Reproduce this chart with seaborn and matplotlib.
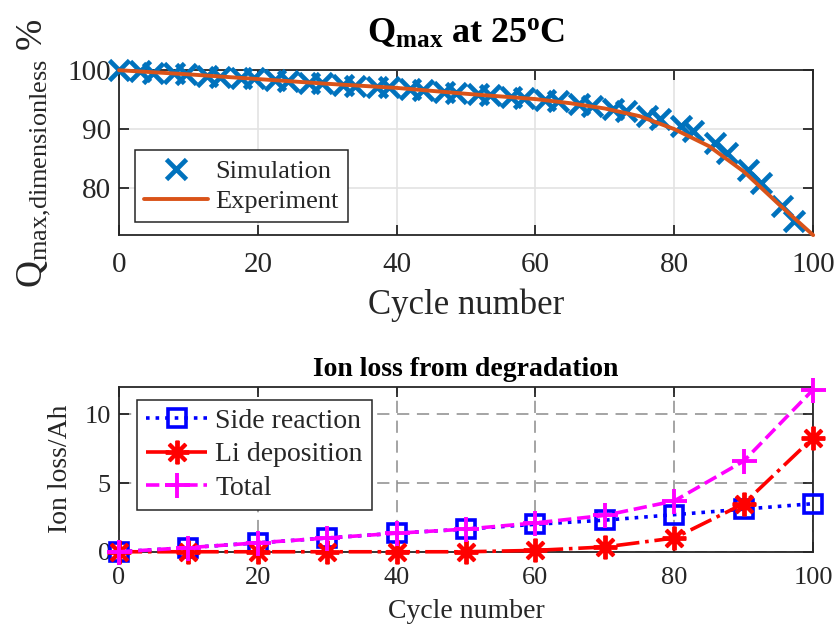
import matplotlib
matplotlib.use("Agg")
import matplotlib.pyplot as plt
import seaborn as sns
import pandas as pd

# ---- data: top panel ----
sim_cycle = [0, 3.0, 4.9, 7.9, 9.7, 12.7, 14.6, 17.6, 19.4, 22.5, 24.3, 27.3, 29.2,
             32.2, 34.0, 37.1, 38.9, 41.9, 43.8, 46.8, 48.6, 51.7, 53.5, 56.5, 58.4,
             61.4, 63.3, 66.3, 68.1, 71.2, 73.0, 76.0, 77.9, 80.9, 82.7, 85.8, 87.6,
             90.6, 92.5, 95.5, 97.3]
sim_q = [100.0, 99.8, 99.6, 99.5, 99.3, 99.1, 98.9, 98.7, 98.6, 98.3, 98.1, 97.9, 97.8,
         97.5, 97.4, 97.2, 97.1, 96.8, 96.6, 96.3, 96.2, 95.9, 95.8, 95.5, 95.3,
         95.0, 94.8, 94.3, 94.0, 93.4, 93.0, 92.3, 91.8, 90.6, 89.6, 87.6, 86.0,
         83.0, 80.8, 76.9, 74.4]
exp_cycle = [0, 10, 20, 30, 40, 50, 60, 65, 70, 75, 80, 85, 90, 95, 100]
exp_q = [100.0, 99.3, 98.5, 97.7, 97.0, 96.0, 95.1, 94.4, 93.5, 92.2, 90.0, 87.1, 82.8, 77.3, 72.0]

# ---- data: bottom panel ----
ion_cycle = [0, 10, 20, 30, 40, 50, 60, 70, 80, 90, 100]
side_reaction = [0.0, 0.3, 0.65, 1.0, 1.35, 1.65, 2.0, 2.3, 2.7, 3.1, 3.5]
li_deposition = [0.0, 0.0, 0.0, 0.0, 0.0, 0.0, 0.1, 0.35, 1.0, 3.5, 8.3]
total_loss = [0.0, 0.3, 0.65, 1.0, 1.35, 1.65, 2.1, 2.65, 3.7, 6.6, 11.8]

top_xticks = [0, 20, 40, 60, 80, 100]
top_yticks = [80, 90, 100]
bot_yticks = [0, 5, 10]

sns.set_theme(style="ticks")
plt.rcParams["font.family"] = ["Liberation Serif", "DejaVu Serif"]
plt.rcParams["mathtext.fontset"] = "custom"
plt.rcParams["mathtext.rm"] = "Liberation Serif"
plt.rcParams["mathtext.it"] = "Liberation Serif:italic"
plt.rcParams["mathtext.bf"] = "Liberation Serif:bold"

INK = "#262626"
fig = plt.figure(figsize=(8.34, 6.27), dpi=100)
ax1 = fig.add_axes([0.1427, 0.625, 0.8323, 0.263])
ax2 = fig.add_axes([0.1427, 0.120, 0.8323, 0.263])

# ---- top panel ----
df_sim = pd.DataFrame({"cycle": sim_cycle, "q": sim_q})
df_exp = pd.DataFrame({"cycle": exp_cycle, "q": exp_q})
sns.lineplot(data=df_sim, x="cycle", y="q", ax=ax1, color="#0072BD", linestyle="none",
             marker="x", markersize=14, markeredgewidth=3.4, markeredgecolor="#0072BD",
             label="Simulation", clip_on=False, zorder=3)
sns.lineplot(data=df_exp, x="cycle", y="q", ax=ax1, color="#D95319", linewidth=2.8,
             label="Experiment", zorder=4, clip_on=False)
ax1.set_xlim(0, 100)
ax1.set_ylim(72, 100)
ax1.set_xticks(top_xticks)
ax1.set_yticks(top_yticks)
ax1.grid(True, color="#e3e3e3", linewidth=1.2, linestyle="-")
ax1.set_axisbelow(True)
ax1.set_title(r"$\mathbf{Q_{max}\ at\ 25^{o}C}$", fontsize=26, color="black", pad=20)
ax1.set_xlabel("Cycle number", fontsize=25, color=INK, labelpad=8)
ax1.set_ylabel(r"$\mathrm{Q_{max{,}dimensionless}}\ \%$", fontsize=27, color=INK, labelpad=10)
leg1 = ax1.legend(loc="lower left", bbox_to_anchor=(0.023, 0.079), fontsize=19,
                  frameon=True, fancybox=False, framealpha=1, edgecolor=INK,
                  handlelength=2.4, labelspacing=0.25, borderpad=0.35, handletextpad=0.3,
                  borderaxespad=0)
leg1.get_frame().set_linewidth(1.1)

# ---- bottom panel ----
df_ion = pd.DataFrame({"cycle": ion_cycle, "side": side_reaction,
                       "li": li_deposition, "total": total_loss})
sns.lineplot(data=df_ion, x="cycle", y="side", ax=ax2, color="#0000FF", linestyle=":",
             linewidth=2.6, marker="s", markersize=13, markerfacecolor="none",
             markeredgewidth=2.6, markeredgecolor="#0000FF", label="Side reaction",
             clip_on=False, zorder=3)
sns.lineplot(data=df_ion, x="cycle", y="li", ax=ax2, color="#FF0000", linestyle="-.",
             linewidth=2.6, marker=(8, 2, 0), markersize=17, markeredgewidth=2.8,
             markeredgecolor="#FF0000", label="Li deposition", clip_on=False, zorder=4)
sns.lineplot(data=df_ion, x="cycle", y="total", ax=ax2, color="#FF00FF", linestyle="--",
             linewidth=2.6, marker="+", markersize=18, markeredgewidth=2.8,
             markeredgecolor="#FF00FF", label="Total", clip_on=False, zorder=5)
ax2.set_xlim(0, 100)
ax2.set_ylim(0, 12)
ax2.set_xticks(top_xticks)
ax2.set_yticks(bot_yticks)
ax2.grid(True, color="#8c8c8c", linewidth=1.1, linestyle=(0, (8, 5)))
ax2.set_axisbelow(True)
ax2.set_title("Ion loss from degradation", fontsize=20, fontweight="bold", color="black", pad=8)
ax2.set_xlabel("Cycle number", fontsize=20, color=INK, labelpad=7)
ax2.set_ylabel("Ion loss/Ah", fontsize=20, color=INK, labelpad=8)
leg2 = ax2.legend(loc="upper left", bbox_to_anchor=(0.026, 0.921), fontsize=20,
                  frameon=True, fancybox=False, framealpha=1, edgecolor=INK,
                  handlelength=2.2, labelspacing=0.28, borderpad=0.32, handletextpad=0.3,
                  borderaxespad=0)
leg2.get_frame().set_linewidth(1.1)

for ax, fs, pd_x in ((ax1, 21, 12), (ax2, 19, 11)):
    for sp in ax.spines.values():
        sp.set_visible(True)
        sp.set_color(INK)
        sp.set_linewidth(1.3)
    ax.tick_params(direction="in", length=7, width=1.3, colors=INK, labelsize=fs,
                   top=True, right=True, labelcolor=INK)
    ax.tick_params(axis="x", pad=pd_x)
    ax.tick_params(axis="y", pad=6)

fig.savefig("out.png", dpi=100)
